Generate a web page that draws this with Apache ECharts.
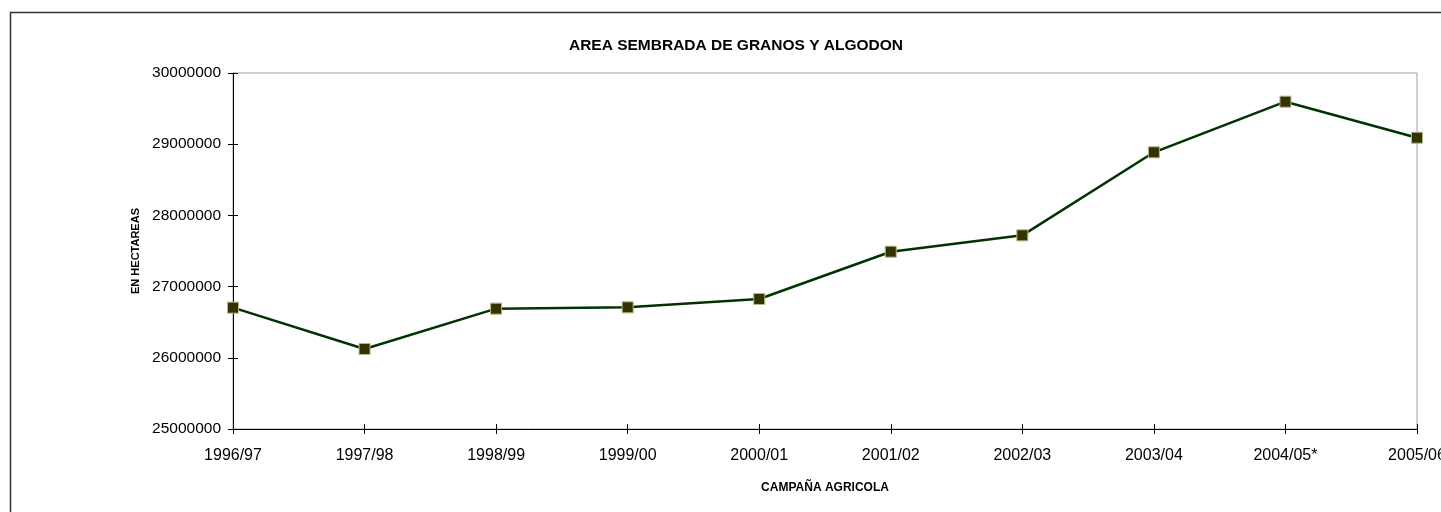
<!DOCTYPE html>
<html>
<head>
<meta charset="utf-8">
<script src="https://cdn.jsdelivr.net/npm/echarts@6/dist/echarts.min.js"></script>
<style>
html,body{margin:0;padding:0;background:#fff;}
#chart{width:1441px;height:512px;}
</style>
</head>
<body>
<div id="chart"></div>
<script>
const categories = ['1996/97','1997/98','1998/99','1999/00','2000/01','2001/02','2002/03','2003/04','2004/05*','2005/06'];
const areaValues = [26704000, 26124000, 26690000, 26709000, 26826000, 27490000, 27720000, 28886000, 29597000, 29091000];
const yMin = 25000000;
const yMax = 30000000;
const yInterval = 1000000;

const FONT = '"Liberation Sans", Arial, sans-serif';
const chart = echarts.init(document.getElementById('chart'));
chart.setOption({
  animation: false,
  backgroundColor: '#ffffff',
  title: {
    text: 'AREA SEMBRADA DE GRANOS Y ALGODON',
    left: 731, top: 33, textAlign: 'center',
    textStyle: {fontFamily: FONT, fontSize: 15.5, fontWeight: 'bold', color: '#000'}
  },
  graphic: [{
    type: 'rect', silent: true, z: -1,
    shape: {x: 10.5, y: 12.5, width: 1600, height: 700},
    style: {fill: 'none', stroke: '#333', lineWidth: 1.5}
  }],
  grid: {left: 233, right: 24, top: 73, bottom: 83, outerBoundsMode: 'none', containLabel: false, show: true, borderColor: '#a0a0a0', borderWidth: 1, backgroundColor: 'transparent'},
  xAxis: [{
    type: 'category', data: categories, boundaryGap: false,
    name: 'CAMPAÑA AGRICOLA', nameLocation: 'middle', nameGap: 53,
    nameTextStyle: {fontFamily: FONT, fontSize: 12, fontWeight: 'bold', color: '#000'},
    axisLine: {show: true, lineStyle: {color: '#000', width: 1}},
    axisTick: {show: true, inside: false, length: 5, alignWithLabel: true, lineStyle: {color: '#000'}},
    axisLabel: {fontFamily: FONT, fontSize: 16, color: '#000', margin: 19, interval: 0, hideOverlap: false},
    splitLine: {show: false}
  }, {
    type: 'category', data: categories, boundaryGap: false, position: 'bottom',
    axisLine: {show: false},
    axisTick: {show: true, inside: true, length: 5, lineStyle: {color: '#000'}},
    axisLabel: {show: false}, splitLine: {show: false}
  }],
  yAxis: [{
    type: 'value', min: yMin, max: yMax, interval: yInterval,
    name: 'EN HECTAREAS', nameLocation: 'middle', nameGap: 75,
    nameTextStyle: {fontFamily: FONT, fontSize: 11, fontWeight: 'bold', color: '#000'},
    axisLine: {show: true, lineStyle: {color: '#000', width: 1}},
    axisTick: {show: true, inside: false, length: 5, lineStyle: {color: '#000'}},
    axisLabel: {fontFamily: FONT, fontSize: 15.5, color: '#000', margin: 12, formatter: function (v) { return String(v); }},
    splitLine: {show: false}
  }, {
    type: 'value', min: yMin, max: yMax, interval: yInterval, position: 'left',
    axisLine: {show: false},
    axisTick: {show: true, inside: true, length: 5, lineStyle: {color: '#000'}},
    axisLabel: {show: false}, splitLine: {show: false}
  }],
  series: [{
    type: 'line', data: areaValues, xAxisIndex: 0, yAxisIndex: 0,
    clip: false,
    symbol: 'rect', symbolSize: 11,
    lineStyle: {color: '#003300', width: 2.5},
    itemStyle: {color: '#333300', borderColor: '#b5b58a', borderWidth: 1}
  }]
});
</script>
</body>
</html>
